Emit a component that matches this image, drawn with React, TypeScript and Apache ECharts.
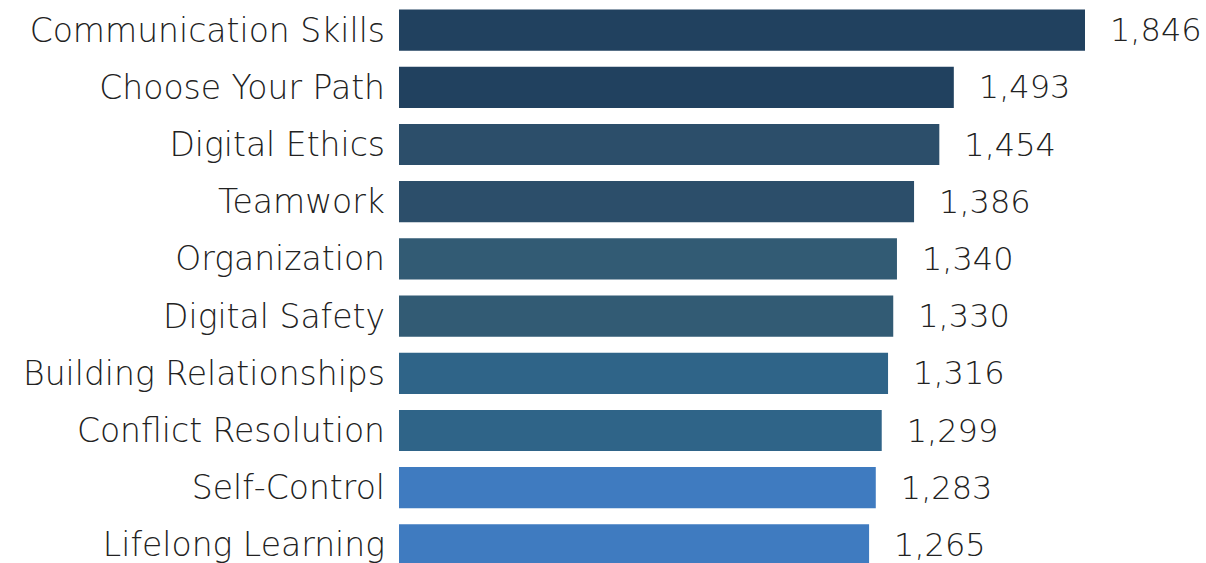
import React, { useEffect, useRef } from "react";
import * as echarts from "echarts";

const categories = [
  "Communication Skills",
  "Choose Your Path",
  "Digital Ethics",
  "Teamwork",
  "Organization",
  "Digital Safety",
  "Building Relationships",
  "Conflict Resolution",
  "Self-Control",
  "Lifelong Learning",
];
const values = [1846, 1493, 1454, 1386, 1340, 1330, 1316, 1299, 1283, 1265];
const colors = [
  "#21415f",
  "#21415f",
  "#2c4e6a",
  "#2c4e6a",
  "#325b74",
  "#325b74",
  "#2f6488",
  "#2f6488",
  "#3f7bc0",
  "#3f7bc0",
];

const FONT = "'DejaVu Sans'";

export default function App() {
  const ref = useRef<HTMLDivElement>(null);
  useEffect(() => {
    document.body.style.margin = "0";
    const chart = echarts.init(ref.current!, null, { renderer: "svg" });
    chart.setOption({
      animation: false,
      grid: {
        left: 399,
        top: 1.5,
        width: (686 * 2000) / 1846,
        height: 572,
        outerBoundsMode: "none",
        containLabel: false,
      },
      xAxis: {
        type: "value",
        min: 0,
        max: 2000,
        show: false,
      },
      yAxis: {
        type: "category",
        inverse: true,
        data: categories,
        axisLine: { show: false },
        axisTick: { show: false },
        axisLabel: {
          margin: 14,
          fontSize: 33,
          fontFamily: FONT,
          fontWeight: 200,
          color: "#222222",
          padding: [4, 0, 0, 0],
        },
      },
      series: [
        {
          type: "bar",
          barCategoryGap: "28%",
          data: values.map((v, i) => ({ value: v, itemStyle: { color: colors[i] } })),
          label: {
            show: true,
            position: "right",
            distance: 25,
            fontSize: 32,
            fontFamily: FONT,
            fontWeight: 200,
            color: "#222222",
            padding: [4, 0, 0, 0],
            formatter: (p: any) => p.value.toLocaleString("en-US"),
          },
        },
      ],
    });
    return () => chart.dispose();
  }, []);
  return <div ref={ref} style={{ width: 1206, height: 563 }} />;
}
